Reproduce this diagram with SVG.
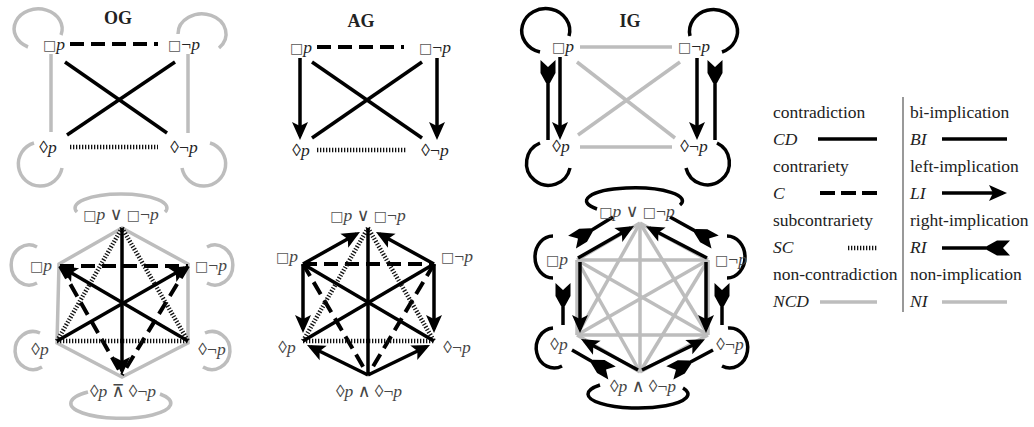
<svg xmlns="http://www.w3.org/2000/svg" width="1034" height="427" viewBox="0 0 1034 427">
<defs>
<marker id="ah" markerUnits="userSpaceOnUse" viewBox="-16 -9 22 18" refX="0" refY="0" markerWidth="22" markerHeight="18" orient="auto" overflow="visible">
<path d="M4,0 L-14,-8 L-10,0 L-14,8 Z" fill="#000"/>
</marker>
<marker id="rf" markerUnits="userSpaceOnUse" viewBox="-18 -9 27 18" refX="0" refY="0" markerWidth="27" markerHeight="18" orient="auto" overflow="visible">
<path d="M-16,-2 L-6,-7.5 L7,-7.5 L0,0 L7,7.5 L-6,7.5 L-16,2 Z" fill="#000"/>
</marker>
<style>
.k{stroke:#000;stroke-width:3.5;fill:none}
.g{stroke:#bdbdbd;stroke-width:3.5;fill:none}
.d{stroke:#000;stroke-width:4;stroke-dasharray:14 7;fill:none}
.o{stroke:#111;stroke-width:4.5;stroke-dasharray:1.3 1.7;fill:none}
.a{marker-end:url(#ah)}
.r{marker-end:url(#rf)}
.lb{font-family:"Liberation Serif","DejaVu Serif","DejaVu Sans",serif;font-size:17.5px;fill:#222;text-anchor:middle;opacity:0.99}
.hx{fill:#444}
.s{font-family:"DejaVu Sans",sans-serif;font-size:14px;fill:#555}
.t{font-family:"Liberation Serif","DejaVu Serif",serif;font-size:18px;font-weight:bold;fill:#222;text-anchor:middle}
.lg{font-family:"Liberation Serif","DejaVu Serif",serif;font-size:17.5px;fill:#222}
.i{font-style:italic}
</style>
</defs>
<rect width="1034" height="427" fill="#fff"/>

<!-- ================= OG top ================= -->
<g id="og-top">
<text class="t" x="118" y="24">OG</text>
<g id="og-top-connectors">
<path class="g" d="M28,47 A24 20 0 1 1 61,35"/>
<path class="g" d="M219,48 A24 20 0 1 0 178,34"/>
<path class="g" d="M34,143 A22 22 0 1 0 62,168"/>
<path class="g" d="M210,143 A22 22 0 1 1 182,168"/>
<line class="g" x1="51" y1="54" x2="51" y2="132"/>
<line class="g" x1="188" y1="54" x2="188" y2="133"/>
<line class="d" x1="70" y1="44" x2="158" y2="44"/>
<line class="o" x1="70" y1="147" x2="158" y2="147"/>
<line class="k" x1="65" y1="62" x2="167" y2="133"/>
<line class="k" x1="175" y1="62" x2="67" y2="135"/>
</g>
<g id="og-bp"><text class="lb" x="54" y="50"><tspan class="s">□</tspan><tspan class="i">p</tspan></text></g>
<g id="og-bnp"><text class="lb" x="184" y="50"><tspan class="s">□</tspan>¬<tspan class="i">p</tspan></text></g>
<g id="og-dp"><text class="lb" x="48" y="153">◊<tspan class="i">p</tspan></text></g>
<g id="og-dnp"><text class="lb" x="184" y="153">◊¬<tspan class="i">p</tspan></text></g>
</g>

<!-- ================= AG top ================= -->
<g id="ag-top">
<text class="t" x="361" y="27">AG</text>
<g id="ag-top-connectors">
<line class="d" x1="317" y1="47" x2="404" y2="47"/>
<line class="o" x1="317" y1="150" x2="407" y2="150"/>
<line class="k" x1="312" y1="62" x2="422" y2="138"/>
<line class="k" x1="422" y1="62" x2="312" y2="138"/>
<line class="k a" x1="300" y1="58" x2="300" y2="136"/>
<line class="k a" x1="437" y1="58" x2="437" y2="136"/>
</g>
<g id="ag-bp"><text class="lb" x="301" y="53"><tspan class="s">□</tspan><tspan class="i">p</tspan></text></g>
<g id="ag-bnp"><text class="lb" x="435" y="53"><tspan class="s">□</tspan>¬<tspan class="i">p</tspan></text></g>
<g id="ag-dp"><text class="lb" x="301" y="156">◊<tspan class="i">p</tspan></text></g>
<g id="ag-dnp"><text class="lb" x="435" y="156">◊¬<tspan class="i">p</tspan></text></g>
</g>

<!-- ================= IG top ================= -->
<g id="ig-top">
<text class="t" x="630" y="27">IG</text>
<g id="ig-top-connectors">
<path class="k" d="M540,52 A24 22 0 1 1 569,36"/>
<path class="k" d="M690,36 A24 22 0 1 1 722,52"/>
<path class="k" d="M540,143 A22 22 0 1 0 570,168"/>
<path class="k" d="M717,143 A22 22 0 1 1 686,168"/>
<line class="g" x1="580" y1="47" x2="672" y2="47"/>
<line class="g" x1="580" y1="147" x2="672" y2="147"/>
<line class="g" x1="577" y1="62" x2="675" y2="138"/>
<line class="g" x1="680" y1="62" x2="578" y2="135"/>
<line class="k a" x1="560" y1="57" x2="560" y2="136"/>
<line class="k a" x1="697" y1="58" x2="697" y2="136"/>
<line class="k r" x1="548" y1="140" x2="548" y2="67"/>
<line class="k r" x1="715" y1="140" x2="715" y2="67"/>
</g>
<g id="ig-bp"><text class="lb" x="563" y="52"><tspan class="s">□</tspan><tspan class="i">p</tspan></text></g>
<g id="ig-bnp"><text class="lb" x="694" y="52"><tspan class="s">□</tspan>¬<tspan class="i">p</tspan></text></g>
<g id="ig-dp"><text class="lb" x="561" y="152">◊<tspan class="i">p</tspan></text></g>
<g id="ig-dnp"><text class="lb" x="694" y="152">◊¬<tspan class="i">p</tspan></text></g>
</g>

<!-- ================= OG hexagon ================= -->
<g id="og-hex">
<g id="og-hex-connectors">
<path class="g" d="M77,212 A46 14 0 1 1 165,212"/>
<path class="g" d="M88,392 A50 15 0 1 0 160,394"/>
<path class="g" d="M37,247 A18 20 0 1 0 37,283"/>
<path class="g" d="M207,247 A18 20 0 1 1 207,283"/>
<path class="g" d="M40,333 A18 19 0 1 0 42,367"/>
<path class="g" d="M205,333 A18 19 0 1 1 203,367"/>
<path class="g" d="M122,228 L59,264 L57,343 L122,377 L188,343 L188,264 Z"/>
<line class="d" x1="60" y1="266" x2="188" y2="266"/>
<line class="d" x1="60" y1="266" x2="122" y2="375"/>
<line class="d" x1="188" y1="266" x2="122" y2="375"/>
<line class="o" x1="57" y1="341" x2="188" y2="341"/>
<line class="o" x1="122" y1="228" x2="57" y2="341"/>
<line class="o" x1="122" y1="228" x2="188" y2="341"/>
<line class="k a" x1="188" y1="341" x2="63" y2="268"/>
<line class="k a" x1="57" y1="341" x2="184.5" y2="268"/>
<line class="k a" x1="122" y1="228" x2="122" y2="371"/>
</g>
<g id="og-h-top"><text class="lb hx" x="121" y="220"><tspan class="s">□</tspan><tspan class="i">p</tspan> ∨ <tspan class="s">□</tspan>¬<tspan class="i">p</tspan></text></g>
<g id="og-h-bp"><text class="lb hx" x="41" y="271"><tspan class="s">□</tspan><tspan class="i">p</tspan></text></g>
<g id="og-h-bnp"><text class="lb hx" x="211" y="271"><tspan class="s">□</tspan>¬<tspan class="i">p</tspan></text></g>
<g id="og-h-dp"><text class="lb hx" x="40" y="355">◊<tspan class="i">p</tspan></text></g>
<g id="og-h-dnp"><text class="lb hx" x="212" y="355">◊¬<tspan class="i">p</tspan></text></g>
<g id="og-h-bot"><text class="lb hx" x="123" y="397">◊<tspan class="i">p</tspan> ⊼ ◊¬<tspan class="i">p</tspan></text></g>
</g>

<!-- ================= AG hexagon ================= -->
<g id="ag-hex">
<g id="ag-hex-connectors">
<line class="d" x1="303" y1="264" x2="434" y2="264"/>
<line class="d" x1="303" y1="264" x2="368" y2="375"/>
<line class="d" x1="434" y1="264" x2="368" y2="375"/>
<line class="o" x1="303" y1="341" x2="434" y2="341"/>
<line class="o" x1="368" y1="228" x2="303" y2="341"/>
<line class="o" x1="368" y1="228" x2="434" y2="341"/>
<line class="k" x1="303" y1="264" x2="434" y2="341"/>
<line class="k" x1="434" y1="264" x2="303" y2="341"/>
<line class="k" x1="368" y1="228" x2="368" y2="375"/>
<line class="k a" x1="303" y1="264" x2="356.5" y2="234"/>
<line class="k a" x1="434" y1="264" x2="379.5" y2="234"/>
<line class="k a" x1="303" y1="264" x2="303" y2="329"/>
<line class="k a" x1="434" y1="264" x2="434" y2="329"/>
<line class="k a" x1="368" y1="375" x2="310.6" y2="346.8"/>
<line class="k a" x1="368" y1="375" x2="426.4" y2="346.7"/>
</g>
<g id="ag-h-top"><text class="lb hx" x="368" y="221"><tspan class="s">□</tspan><tspan class="i">p</tspan> ∨ <tspan class="s">□</tspan>¬<tspan class="i">p</tspan></text></g>
<g id="ag-h-bp"><text class="lb hx" x="287" y="262"><tspan class="s">□</tspan><tspan class="i">p</tspan></text></g>
<g id="ag-h-bnp"><text class="lb hx" x="457" y="262"><tspan class="s">□</tspan>¬<tspan class="i">p</tspan></text></g>
<g id="ag-h-dp"><text class="lb hx" x="287" y="353">◊<tspan class="i">p</tspan></text></g>
<g id="ag-h-dnp"><text class="lb hx" x="457" y="353">◊¬<tspan class="i">p</tspan></text></g>
<g id="ag-h-bot"><text class="lb hx" x="369" y="397">◊<tspan class="i">p</tspan> ∧ ◊¬<tspan class="i">p</tspan></text></g>
</g>

<!-- ================= IG hexagon ================= -->
<g id="ig-hex">
<g id="ig-hex-connectors">
<path class="k" d="M597,209 A48 13 0 1 1 680,205"/>
<path class="k" d="M600,385 A50 14 0 1 0 683,388"/>
<path class="k" d="M553,236 A18 21 0 1 0 553,278"/>
<path class="k" d="M727,236 A18 21 0 1 1 727,278"/>
<path class="k" d="M553,328 A18 20 0 1 0 562,366"/>
<path class="k" d="M728,328 A18 20 0 1 1 722,366"/>
<g class="g">
<line x1="640" y1="223" x2="577" y2="260"/>
<line x1="640" y1="223" x2="708" y2="260"/>
<line x1="640" y1="223" x2="577" y2="335"/>
<line x1="640" y1="223" x2="708" y2="335"/>
<line x1="640" y1="223" x2="640" y2="372"/>
<line x1="577" y1="260" x2="708" y2="260"/>
<line x1="577" y1="260" x2="577" y2="335"/>
<line x1="577" y1="260" x2="708" y2="335"/>
<line x1="577" y1="260" x2="640" y2="372"/>
<line x1="708" y1="260" x2="577" y2="335"/>
<line x1="708" y1="260" x2="708" y2="335"/>
<line x1="708" y1="260" x2="640" y2="372"/>
<line x1="577" y1="335" x2="708" y2="335"/>
<line x1="577" y1="335" x2="640" y2="372"/>
<line x1="708" y1="335" x2="640" y2="372"/>
</g>
<line class="k a" x1="578" y1="258" x2="630.5" y2="228"/>
<line class="k a" x1="707" y1="258" x2="649.5" y2="228"/>
<line class="k a" x1="580" y1="262" x2="580" y2="329"/>
<line class="k a" x1="706" y1="262" x2="706" y2="329"/>
<line class="k a" x1="638" y1="370" x2="584.5" y2="341"/>
<line class="k a" x1="642" y1="370" x2="701.4" y2="341"/>
<line class="k r" x1="613" y1="217" x2="578" y2="238.4"/>
<line class="k r" x1="670" y1="217" x2="709" y2="238.6"/>
<line class="k r" x1="563" y1="325" x2="563" y2="290"/>
<line class="k r" x1="722" y1="325" x2="722" y2="290"/>
<line class="k r" x1="572" y1="350" x2="606" y2="369.5"/>
<line class="k r" x1="713" y1="350" x2="676" y2="369.7"/>
</g>
<g id="ig-h-top"><text class="lb hx" x="637" y="217"><tspan class="s">□</tspan><tspan class="i">p</tspan> ∨ <tspan class="s">□</tspan>¬<tspan class="i">p</tspan></text></g>
<g id="ig-h-bp"><text class="lb hx" x="557" y="265"><tspan class="s">□</tspan><tspan class="i">p</tspan></text></g>
<g id="ig-h-bnp"><text class="lb hx" x="731" y="265"><tspan class="s">□</tspan>¬<tspan class="i">p</tspan></text></g>
<g id="ig-h-dp"><text class="lb hx" x="559" y="350">◊<tspan class="i">p</tspan></text></g>
<g id="ig-h-dnp"><text class="lb hx" x="730" y="350">◊¬<tspan class="i">p</tspan></text></g>
<g id="ig-h-bot"><text class="lb hx" x="643" y="392">◊<tspan class="i">p</tspan> ∧ ◊¬<tspan class="i">p</tspan></text></g>
</g>

<!-- ================= Legend ================= -->
<g id="legend">
<line x1="903" y1="97" x2="903" y2="312" stroke="#777" stroke-width="1.5"/>
<text class="lg" x="773" y="118">contradiction</text>
<text class="lg i" x="773" y="145">CD</text>
<line class="k" x1="818" y1="139" x2="877" y2="139" stroke-width="4"/>
<text class="lg" x="773" y="172">contrariety</text>
<text class="lg i" x="773" y="199">C</text>
<line class="d" x1="820" y1="193" x2="877" y2="193" style="stroke-dasharray:15 6"/>
<text class="lg" x="773" y="226">subcontrariety</text>
<text class="lg i" x="773" y="253">SC</text>
<line class="o" x1="848" y1="248" x2="877" y2="248"/>
<text class="lg" x="773" y="280">non-contradiction</text>
<text class="lg i" x="773" y="307">NCD</text>
<line class="g" x1="820" y1="302" x2="877" y2="302"/>

<text class="lg" x="910" y="118">bi-implication</text>
<text class="lg i" x="910" y="145">BI</text>
<line class="k" x1="942" y1="139" x2="1007" y2="139" stroke-width="4"/>
<text class="lg" x="910" y="172">left-implication</text>
<text class="lg i" x="910" y="199">LI</text>
<line class="k a" x1="942" y1="193" x2="1003" y2="193"/>
<text class="lg" x="910" y="226">right-implication</text>
<text class="lg i" x="910" y="253">RI</text>
<line class="k r" x1="942" y1="248" x2="1003" y2="248"/>
<text class="lg" x="910" y="280">non-implication</text>
<text class="lg i" x="910" y="307">NI</text>
<line class="g" x1="942" y1="302" x2="1007" y2="302"/>
</g>
</svg>
